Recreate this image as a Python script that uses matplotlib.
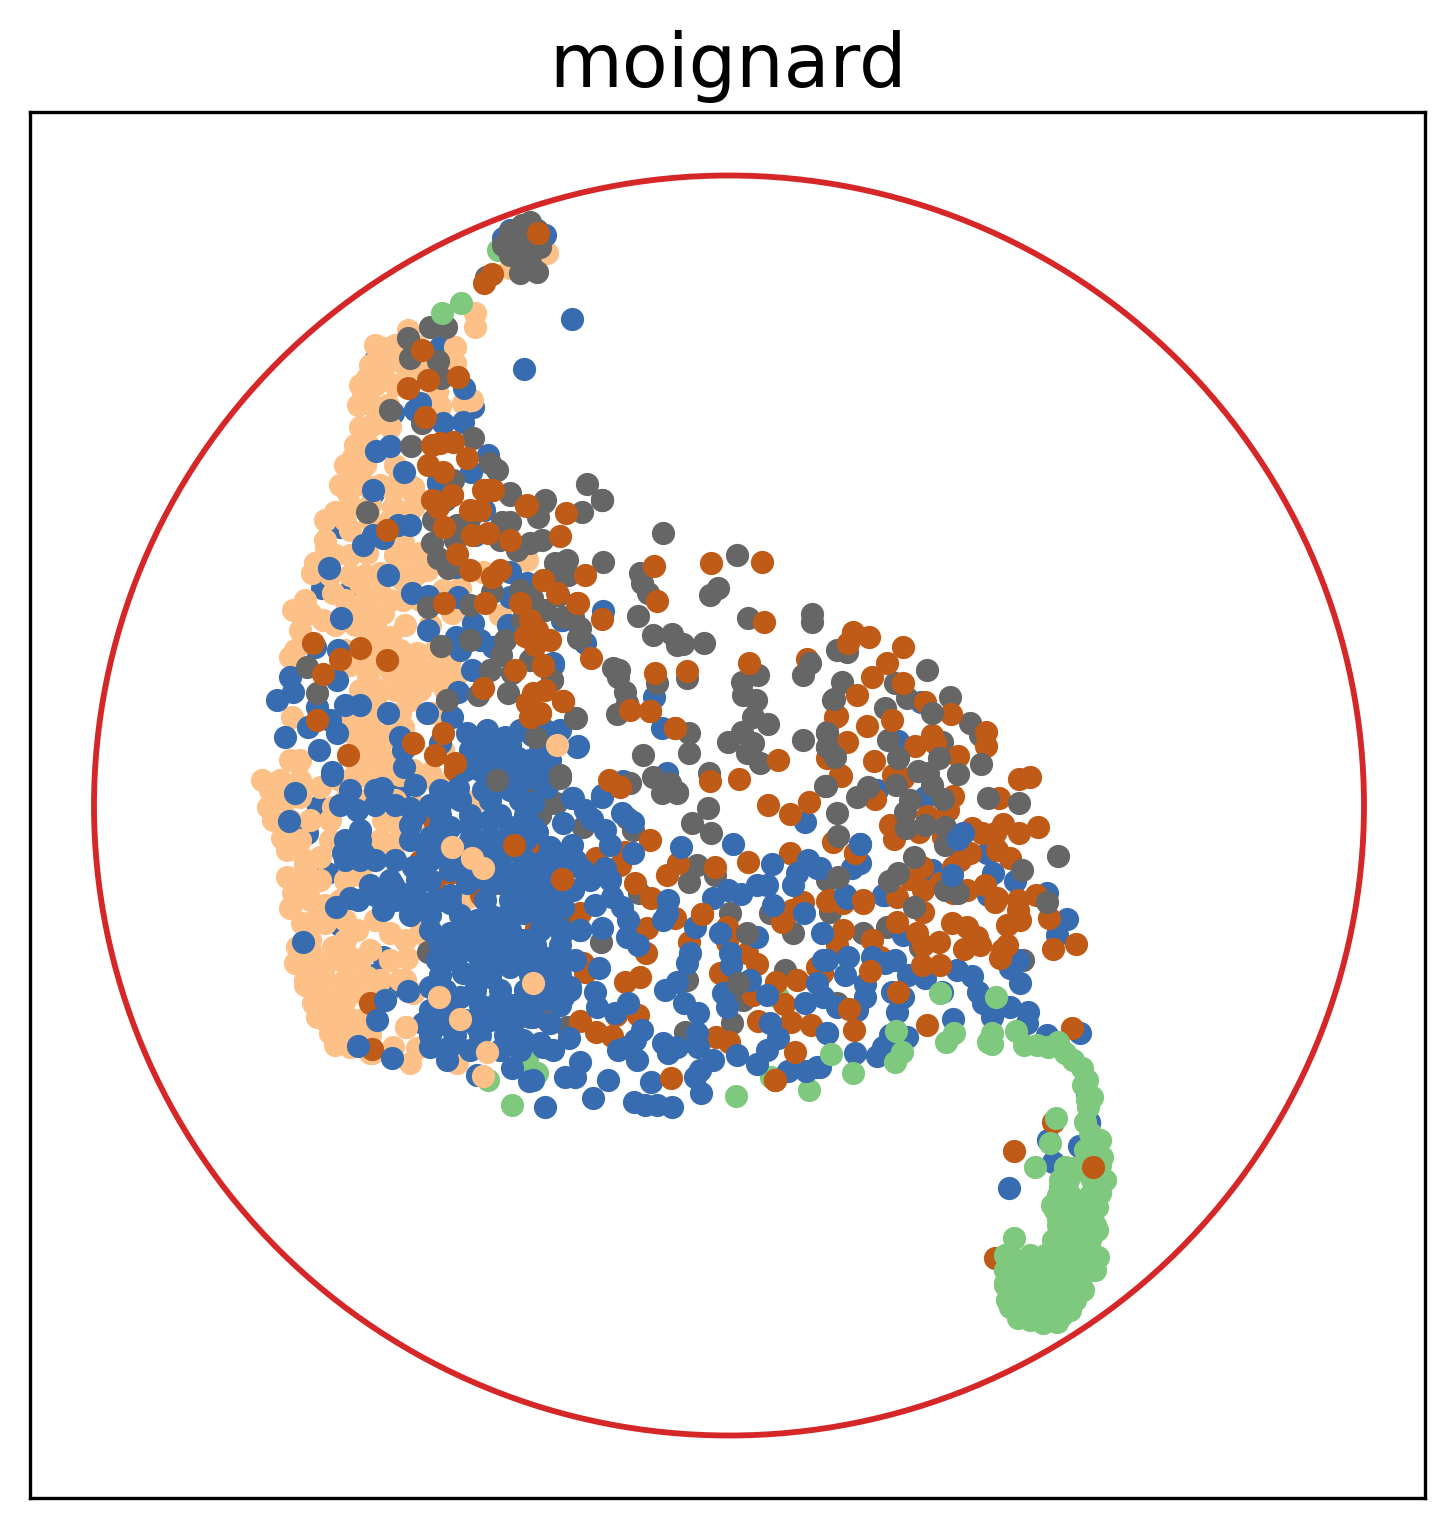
import matplotlib
matplotlib.use("Agg")
import matplotlib.pyplot as plt
from matplotlib.patches import Ellipse

# values, in the axes units of the picture (x, y)
green_low = [(498,250),(527,1060),(537,1073),(488,1080),(778,997),(771,1077),(809,1090)]

blue_low = [(375,360),(440,347),(393,413),(373,493),(340,527),(322,588),(352,587),
    (315,647),(372,655),(295,793),(318,807),(307,833),(370,850),(327,873),(303,942),(383,957),(400,657),
    (473,407),(403,787),(358,900),(340,925),(372,975),(388,990),(477,1075),(392,900)]

peach = [(408,330),(475,313),(475,327),(383,348),(455,347),(455,363),(390,360),(367,378),(363,397),(383,377),
    (360,427),(390,427),(353,457),(352,470),(440,406),(437,392),(472,400),(463,403),(397,483),(413,487),
    (350,487),(380,413),(417,367),(547,253),(510,268),
    (348,493),(335,512),(325,540),(326,548),(315,563),(312,573),(350,530),(367,553),(380,573),(403,543),
    (420,553),(393,490),(413,493),(393,507),(413,507),(360,583),(333,593),(380,593),(403,600),(293,610),
    (310,613),(323,620),(363,613),(383,613),(300,630),(303,643),(290,657),(350,620),(390,637),(370,633),
    (417,653),(423,670),(368,677),(390,670),(380,690),(400,687),(455,677),(450,660),(433,680),(417,683),
    (433,713),(403,727),(400,713),(368,713),(370,727),(358,753),(357,770),(290,760),(298,763),(292,717),
    (443,750),(397,675),(452,613),(460,588),(443,590),(427,570),(403,580),(483,572),(500,615),(527,560),
    (413,770),(430,773),(460,773),(393,773),
    (270,790),(268,807),(273,820),(282,838),(287,850),(287,877),(293,893),(290,908),(297,947),(295,963),
    (310,983),(313,1003),(317,1017),(330,1033),(335,1045),(350,1047),(370,1053),(300,797),(320,787),(357,777),
    (333,807),(320,857),(305,865),(308,888),(302,923),(325,923),(360,875),(393,855),(398,840),(383,820),
    (477,800),(453,777),(417,807),(390,933),(357,930),(370,950),(420,933),(407,958),(367,977),(333,947),
    (347,977),(367,997),(337,997),(323,970),(347,1017),(330,1010),(350,957),(350,990),(400,980),(413,993),
    (406,1027),(372,1053),(457,1063),(410,1063),(417,1048),(393,1047),(513,1043),(467,898),(305,985),(320,1000),
    (335,1020),(355,1030),(310,950),(325,905),(340,960),(375,1020),(360,1035)]

# solid peach areas of the reference
peach_fill = [(375,345),(395,345),(415,345),(370,365),(385,365),(405,365),(360,385),(375,385),(395,385),
    (358,405),(372,405),(388,405),(372,425),(355,445),(368,445),(345,465),(365,465),(395,465),
    (340,485),(365,485),(380,485),(350,505),(370,505),(325,520),(345,520),(370,520),(390,520),(405,520),
    (335,555),(350,555),(395,555),(410,555),(330,575),(350,575),(365,575),(400,575),(415,575),
    (305,600),(345,600),(365,600),(390,600),(420,600),(335,625),(355,625),(375,625),(405,625),(430,625),
    (295,650),(345,650),(375,650),(400,650),(435,650),(350,665),(370,665),(410,665),(440,665),
    (360,690),(395,690),(420,690),(445,690),(375,700),(410,700),(375,735),(355,735),(365,745),(380,745),
    (300,760),(375,760),(262,780),(280,780),(300,780),(340,780),(375,780),(400,775),(430,778),
    (285,800),(345,800),(365,800),(395,800),(440,800),(290,820),(310,820),(330,820),(390,820),(420,820),
    (300,840),(330,840),(380,840),(305,860),(375,860),(300,880),(320,880),(345,880),(310,900),(340,900),
    (315,920),(345,920),(375,920),(310,940),(345,940),(405,940),(310,960),(330,960),(360,960),(390,960),
    (305,980),(325,980),(345,980),(380,980),(405,980),(325,1000),(345,1000),(385,1000),(325,1020),(360,1020),
    (340,1035),(370,1035),(350,720),(385,735),(410,745),(385,760)]

gray_low = [(498,781),(527,790),(540,815),(500,883),(428,952),(530,952),(550,803),(556,803),(540,815),
    (583,827),(627,818),(633,830),(566,918),(601,942),(533,950),(639,893),(730,913),(689,882),(697,865),
    (715,875),(687,980),(738,983),(743,1000),(732,1023),(567,1027),(685,1032),(837,1003),(830,912),(863,933),
    (887,927),(920,947),(1023,960),(785,970),(770,913),(793,933),(827,880),(830,910)]

orange_low = [(435,823),(420,861),(434,882),(514,845),(481,895),(372,1049),(450,873),(540,850),(455,770),
    (370,1003),(547,1020),(536,928),(558,960),(543,1013),(562,879),(580,913),(596,858),(620,865),(625,852),
    (583,963),(585,972),(646,953),(647,928),(651,898),(635,883),(650,840),(580,1021),(596,1032),(612,1036),
    (616,1015),(638,1015),(625,982),(640,977),(720,973),(753,995),(689,942),(727,927),(727,942),(747,953),
    (757,964),(675,918),(716,1037),(729,1042),(776,982),(797,980),(817,967),(784,1004),(791,1022),(811,1025),
    (758,1021),(782,922),(792,910),(803,902),(827,901),(790,853),(678,863),(667,875),(715,867),(748,862),
    (843,903),(830,900),(843,930),(837,945),(822,973),(863,903),(872,940),(880,957),(855,853),(833,842)]

blue = [(503,238),(545,235),(510,230),(572,319),(524,369),(464,388),(463,422),(443,423),(420,403),(415,410),(376,451),(390,446),(404,472),
    (438,482),(471,472),(488,455),(373,490),(438,483),(410,525),(398,525),(383,538),(373,535),(363,545),
    (329,568),(341,618),(412,593),(428,596),(388,575),(428,630),(456,637),(338,650),(472,670),(458,692),
    (452,717),(337,680),(290,677),(293,692),(317,707),(345,705),(360,705),(330,720),(308,727),(285,737),
    (337,733),(319,750),(332,772),(388,713),(427,713),(400,737),(403,750),(404,767),(440,743),(467,733),
    (487,730),(505,737),(532,735),(577,747),(470,750),(477,760),(507,757),(518,758),(522,780),(540,778),
    (510,572),(510,597),(475,535),(484,510),(456,567),(508,625),(473,623),(493,647),(553,663),(533,657),
    (562,620),(527,583),(480,640),(460,650),(458,597),(277,700),(289,821),(332,775),(295,793),(357,810),
    (343,853),(363,853),(360,830),(382,788),(415,785),(410,808),(440,805),(458,788),(350,898),(370,885),
    (393,885),(336,907),(383,910),(410,908),(303,942),(408,991),(377,1020),(358,1046),(392,1058),(430,1047),
    (449,1047),(447,1060),(512,1068),(529,1081),(545,1107),(523,1040),(543,1047),(430,837),(450,827),(470,827),
    (490,820),(510,827),(533,827),(547,787),(510,790),(533,803),(483,790),(450,870),(430,903),(467,883),
    (450,903),(477,920),(503,917),(527,890),(540,863),(503,873),(490,837),(523,913),(450,933),(470,950),
    (497,947),(523,940),(543,910),(437,960),(463,973),(490,977),(510,967),(540,957),(430,987),(460,997),
    (497,1003),(520,1003),(543,997),(423,1023),(450,1027),(477,1027),(503,1017),(530,1017),(430,1010),(547,970),
    (447,1010),(400,893),(417,880),(427,853),(413,867),
    (603,611),(562,620),(585,643),(553,665),(654,697),(662,728),(578,746),(667,773),(623,781),(602,795),
    (572,798),(542,783),(602,797),(573,798),(585,810),(592,819),(563,823),(537,832),(572,845),(550,847),
    (633,822),(622,813),(610,845),(633,853),(681,847),(733,844),(772,864),(805,822),(808,860),(817,868),
    (797,873),(793,885),(605,868),(583,870),(560,873),(537,873),(573,890),(550,893),(595,905),(612,897),
    (622,907),(628,920),(602,928),(627,937),(638,945),(580,930),(562,933),(668,900),(667,913),(663,920),
    (695,927),(713,898),(728,890),(741,894),(757,885),(767,885),(773,905),(804,913),(720,933),(690,953),
    (687,963),(730,953),(731,965),(757,937),(599,968),(822,933),(823,960),(817,983),(823,997),(677,982),
    (665,990),(684,1003),(698,1013),(723,993),(727,1007),(750,980),(767,995),(805,1003),(595,992),(597,1007),
    (615,1013),(628,1003),(570,987),(563,997),(540,977),(543,1000),(533,1017),(550,1023),(642,1030),(635,1040),
    (627,1047),(637,1060),(618,1050),(569,1038),(553,1050),(540,1043),(580,1062),(565,1077),(575,1077),(533,1080),
    (608,1080),(663,1043),(677,1047),(697,1033),(698,1047),(668,1053),(713,1060),(700,1070),(695,1077),(701,1093),
    (737,1055),(757,1064),(767,1050),(778,1038),(770,1023),(788,1071),(806,1071),(817,1067),(827,1033),(651,1082),
    (634,1102),(645,1105),(657,1105),(672,1107),(593,1098),(550,923),(563,907),(543,957),(553,977),
    (921,702),(898,741),(925,797),(877,790),(860,844),(860,863),(852,868),(820,868),(845,895),(883,895),
    (932,870),(988,895),(987,853),(993,873),(1015,881),(1047,893),
    (1067,919),(1057,935),(1080,1033),(1020,983),(1018,960),(1010,968),(953,1019),(903,997),(897,1012),(892,992),
    (907,1037),(890,1035),(883,1047),(877,1056),(855,1053),(827,960),(848,957),(845,975),(865,984),(865,997),
    (857,1010),(827,1033),(820,1067),(837,1007),(895,960),(872,957),(885,963),(908,975),(925,978),(942,992),
    (957,970),(972,976),(978,992),(983,1003),(992,1017),(1010,1007),(1028,1012),(1027,1023),(1047,1035),(1087,1093),
    (1089,1122),(903,935),(885,895),(847,898),(1009,1188),(1048,1140),(1053,1162),(1079,1146),(1089,1123)]

# solid blue areas of the reference
blue_fill = [(480,745),(495,745),(490,765),(465,770),(460,800),(490,800),(520,800),(415,815),(440,815),(470,815),
    (500,815),(525,815),(345,840),(360,840),(345,860),(360,860),(375,860),(450,850),(470,850),(490,850),(510,850),
    (545,860),(560,855),(575,860),(470,870),(485,870),(520,870),(590,880),(610,880),(490,885),(510,885),(545,885),
    (560,885),(375,895),(395,900),(440,900),(485,900),(510,900),(530,900),(560,900),(410,915),(430,915),(460,915),
    (490,915),(540,915),(430,930),(470,930),(490,930),(510,930),(540,930),(560,930),(580,930),(440,945),(460,945),
    (485,945),(510,945),(535,945),(560,945),(455,960),(480,960),(500,960),(520,960),(560,960),(575,960),(440,975),
    (480,975),(530,975),(560,975),(445,990),(475,990),(500,990),(525,990),(550,990),(570,990),(440,1005),(480,1005),
    (510,1005),(535,1005),(560,1005),(440,1020),(465,1020),(490,1020),(515,1020),(430,1035),(455,1035),(480,1035),(505,1035),
    (350,790),(375,790),(440,790),(490,790),(340,805),(375,805),(395,805),(430,805),(410,825),(440,825),(470,825),
    (410,840),(440,840),(470,840),(505,840),(525,840),(395,860),(430,860),(450,860),(500,860),(525,860),(390,880),
    (430,880),(470,880),(505,880),(530,880),(415,895),(450,895),(385,1000),(470,1050),(500,1050),(520,1050),(480,770),
    (510,770),(530,770),(520,730),(545,730),(560,730),(510,745),(540,745),(555,745),(500,760),(530,760),(550,760)]

gray = [(522,225),(503,245),(517,237),(537,230),(540,247),(520,273),(537,272),(520,257),(530,263),(486,277),
    (510,232),(525,240),(530,245),(510,255),(520,250),(530,222),
    (408,338),(430,327),(446,327),(438,361),(441,378),(410,358),(473,438),(411,446),(497,470),(490,463),
    (453,480),(587,484),(602,500),(510,495),(544,502),(422,423),(390,410),
    (367,512),(433,520),(432,543),(438,558),(448,568),(510,493),(502,522),(510,522),(545,500),(538,517),
    (457,525),(470,517),(517,550),(530,543),(542,540),(555,563),(567,560),(555,578),(567,575),(558,595),
    (532,598),(492,592),(428,607),(573,617),(580,638),(522,620),(441,646),(501,655),(512,673),(552,680),
    (508,693),(478,695),(317,693),(575,718),(307,667),(497,780),(560,775),(447,700),(470,605),(536,737),
    (663,533),(737,555),(603,562),(582,512),(602,500),(640,573),(642,583),(648,593),(718,588),(710,595),
    (638,616),(748,618),(812,614),(812,622),(653,635),(672,634),(677,645),(683,644),(704,643),(613,668),
    (619,670),(618,677),(625,692),(627,703),(617,714),(657,683),(687,678),(758,675),(742,682),(743,695),
    (756,700),(753,717),(768,724),(803,675),(742,732),(728,742),(753,743),(747,753),(760,763),(803,740),
    (827,732),(827,747),(833,757),(825,786),(833,700),(842,682),(689,733),(689,753),(643,755),(576,718),
    (578,638),(580,628),(563,617),(552,680),(558,595),(557,578),(568,575),(709,773),(653,777),(670,783),
    (677,792),(630,783),(560,778),(837,650),(708,808),(692,823),(711,833),(662,793),(677,793),
    (847,652),(927,670),(895,683),(907,698),(885,708),(950,697),(970,723),(980,735),(888,740),(942,742),
    (445,500),(455,540),(500,540),(520,590),(545,610),(470,640),(490,670),(505,640),(530,660)]

orange = [(492,274),(484,283),(422,350),(408,388),(428,380),(458,377),(425,417),(432,445),(453,442),(428,465),
    (467,458),(443,472),(483,490),(493,490),(452,495),(527,505),(432,500),(440,443),
    (360,648),(340,659),(323,674),(387,530),(438,507),(444,527),(452,495),(488,490),(457,554),(526,506),
    (566,513),(560,536),(472,535),(488,533),(470,570),(543,580),(557,593),(577,603),(485,603),(520,603),
    (525,636),(535,645),(543,666),(483,688),(533,693),(527,703),(540,713),(530,717),(563,701),(444,603),
    (537,630),(455,763),(443,733),(413,743),(348,755),(317,720),(313,643),(387,660),(492,577),(435,755),
    (654,566),(711,563),(762,562),(585,575),(578,603),(657,601),(602,619),(764,622),(591,658),(749,663),
    (807,659),(655,673),(687,671),(563,701),(650,711),(630,710),(675,728),(835,717),(778,760),(609,780),
    (620,787),(710,781),(739,779),(827,758),(840,775),(543,665),(540,713),(768,805),(809,802),(790,814),
    (853,632),(869,637),(848,643),(903,647),(887,663),(872,677),(903,683),(857,695),(837,716),(867,726),
    (892,720),(951,714),(925,702),(986,732),(986,746),(932,735),(935,743),(915,746),(847,742),(874,761),
    (958,756),(841,776),(1030,777),(1019,779),(875,799),(893,775),(903,778),(953,796),(948,810),(999,798),
    (890,825),(894,839),(927,816),(919,832),(943,837),(972,828),(982,833),(1003,824),(995,833),(1019,833),
    (1038,827),(997,850),(1010,858),(970,853),(960,860),(855,853),(922,867),(910,879),(923,890),(940,883),
    (985,885),(967,890),(1036,895),(863,900),(897,897),(953,893),(997,898),(1018,900),(953,867),
    (952,923),(967,927),(977,937),(980,945),(964,949),(939,942),(923,945),(940,965),(922,965),(1007,925),
    (1018,910),(1020,920),(1049,918),(1076,944),(1053,949),(1007,945),(1002,950),(1000,958),(897,922),(870,971),
    (927,1025),(854,1030),(849,1009),(1072,1028),(898,992),(995,902),(923,912),(917,933),(995,1258),(1014,1151),
    (1053,1122),(671,1078),(795,1052),(775,1080),(702,914),(562,879),
    (470,510),(510,540),(480,510),(500,570),(530,620),(550,640),(515,670),(545,690)]

gray_top = [(834,699),(932,713),(827,733),(827,747),(835,757),(898,758),(939,758),(981,764),(958,774),(918,771),
    (928,773),(932,785),(896,785),(910,800),(826,786),(868,787),(857,797),(988,798),(1019,803),(943,799),
    (837,813),(905,812),(906,828),(925,825),(945,827),(838,836),(945,845),(1058,856),(914,857),(1022,870),
    (838,877),(898,873),(889,881),(958,893),(945,890),(1047,902),(914,907),(810,663),(747,933),(738,983)]

blue_top = [(958,839),(963,833),(860,844),(952,875),(605,830)]

orange_top = [(538,233),(1093,1167),(650,711),(675,728),(514,845),(562,879),(775,1080),(702,914)]

peach_top = [(557,745),(452,847),(472,858),(483,868),(439,997),(460,1019),(487,1052),(483,1076),(533,983),(406,1027)]

green = [(461,303),(442,313),(512,1105),(736,1096),
    (853,1073),(996,997),(896,1031),(831,1054),(895,1062),(902,1052),(946,1042),(954,1033),(992,1033),
    (988,1042),(992,1044),(1016,1031),(1024,1045),(1037,1045),(1048,1047),(1058,1042),(1065,1053),(1073,1060),(1082,1068),
    (1087,1080),(1083,1085),(1092,1097),(1088,1107),(940,993),(1056,1118),(1050,1143),(1035,1167),(1065,1167),(1085,1122),
    (1090,1133),(1100,1140),(1102,1157),(1105,1180),(1100,1193),(1097,1207),(1060,1187),(1052,1205),(1063,1207),(1058,1218),
    (1080,1217),(1097,1230),(1098,1257),(1095,1270),(1083,1290),(1070,1310),(1057,1322),(1043,1323),(1018,1318),(1007,1300),
    (1005,1283),(1005,1255),(1014,1238),(1030,1255),(1053,1240),(1070,1233),(1037,1277),(1020,1280),(1053,1273),(1070,1267),
    (1087,1250),(1027,1303),(1050,1303),(1067,1290),(1080,1240),(1060,1247),(1085,1223),(1037,1307),(1010,1307),(1087,1100),
    (1085,1150),(1100,1165),(1095,1178),(1080,1170),(1072,1168),(1060,1180),(1068,1180),(1092,1180),(1100,1180),
    (1058,1195),(1070,1195),(1090,1195),(1098,1195),(1055,1210),(1068,1210),(1080,1210),(1092,1210),(1058,1225),(1072,1225),
    (1085,1225),(1095,1225),(1060,1240),(1075,1240),(1090,1240),(1010,1255),(1045,1255),(1060,1255),(1075,1255),(1092,1255),
    (1005,1270),(1020,1270),(1035,1270),(1050,1270),(1065,1270),(1080,1270),(1092,1270),(1005,1285),(1020,1285),(1035,1285),
    (1050,1285),(1065,1285),(1080,1285),(1010,1300),(1022,1300),(1035,1300),(1050,1300),(1065,1300),(1075,1300),(1020,1315),
    (1035,1315),(1050,1315),(1062,1315),(1030,1320),(1045,1320)]

layers = [(green_low, "#7fc97f"), (blue_low, "#386cb0"), (peach, "#fdc086"), (peach_fill, "#fdc086"),
          (gray_low, "#666666"), (orange_low, "#bf5b17"), (blue_fill, "#386cb0"), (blue, "#386cb0"),
          (gray, "#666666"), (orange, "#bf5b17"), (gray_top, "#666666"), (blue_top, "#386cb0"),
          (peach_top, "#fdc086"), (green, "#7fc97f"), (orange_top, "#bf5b17")]

W, H = 1455, 1528
fig = plt.figure(figsize=(W / 300, H / 300), dpi=300)
ax = fig.add_axes([30 / W, 1 - 1498 / H, 1395 / W, 1386 / H])

for pts, col in layers:
    x, y = zip(*pts)
    ax.scatter(x, y, s=31, c=col, linewidths=0)

# unit circle of the disk, slightly squashed by the axes in the reference
ax.add_patch(Ellipse((729, 805.5), 1270, 1260, fill=False, ec="#d62728", lw=1.4))

ax.set_xlim(30, 1425)
ax.set_ylim(1498, 112)
ax.set_xticks([])
ax.set_yticks([])
ax.set_title("moignard", fontsize=18, pad=6)

fig.savefig("out.png", dpi=300)
